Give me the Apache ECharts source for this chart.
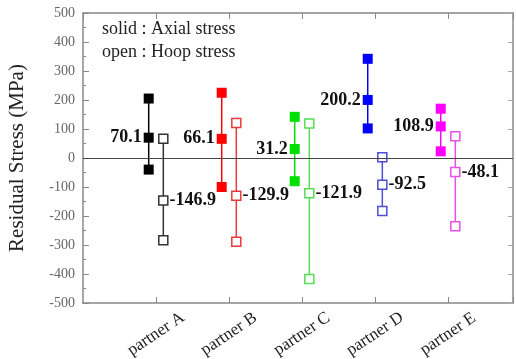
<!DOCTYPE html>
<html>
<head>
<meta charset="utf-8">
<script src="https://cdn.jsdelivr.net/npm/echarts@6/dist/echarts.min.js"></script>
<style>
html,body{margin:0;padding:0;background:#fff;}
#chart{width:516px;height:359px;}
</style>
</head>
<body>
<div id="chart"></div>
<script>
var categories = ['partner A', 'partner B', 'partner C', 'partner D', 'partner E'];
var axialTop = [205, 225, 142, 342, 170];
var axialMean = [70.1, 66.1, 31.2, 200.2, 108.9];
var axialBottom = [-40, -100, -80, 102, 23];
var hoopTop = [66, 121, 119, 3, 75];
var hoopMean = [-146.9, -129.9, -121.9, -92.5, -48.1];
var hoopBottom = [-284, -289, -417, -183, -235];
var yTicks = [-500, -400, -300, -200, -100, 0, 100, 200, 300, 400, 500];

var solidColors = ['#000000', '#ff0000', '#00e000', '#0000ff', '#ff00ff'];
var openColors = ['#333333', '#e83a3a', '#55dd55', '#4d4dd8', '#e64fe6'];
var serif = '"Liberation Serif", "Times New Roman", serif';
var OFF = 0.1;

var series = [];
categories.forEach(function (c, i) {
  var xa = i + 1 - OFF, xh = i + 1 + OFF;
  var lblA = {show: true, position: 'left', distance: 2, fontFamily: serif, fontWeight: 'bold', fontSize: 18, color: '#111', formatter: function (p) { return String(axialMean[i]); }};
  var lblH = {show: true, position: 'right', distance: 1, fontFamily: serif, fontWeight: 'bold', fontSize: 18, color: '#111', formatter: function (p) { return String(hoopMean[i]); }};
  series.push({
    type: 'line', name: c + ' axial', symbol: 'rect', symbolSize: 10,
    lineStyle: {color: solidColors[i], width: 1.5},
    itemStyle: {color: solidColors[i], borderColor: solidColors[i], borderWidth: 0},
    z: 3,
    data: [[xa, axialTop[i]], {value: [xa, axialMean[i]], label: lblA}, [xa, axialBottom[i]]]
  });
  series.push({
    type: 'line', name: c + ' hoop', symbol: 'rect', symbolSize: 9,
    lineStyle: {color: openColors[i], width: 1.5},
    itemStyle: {color: '#ffffff', borderColor: openColors[i], borderWidth: 1.5},
    z: 3,
    data: [[xh, hoopTop[i]], {value: [xh, hoopMean[i]], label: lblH}, [xh, hoopBottom[i]]]
  });
});
series[0].markLine = {
  silent: true, symbol: 'none', label: {show: false},
  lineStyle: {color: '#444', width: 1, type: 'solid'},
  data: [{yAxis: 0}]
};

var axisLineStyle = {color: '#888', width: 1.5};
var chart = echarts.init(document.getElementById('chart'), null, {renderer: 'canvas'});
chart.setOption({
  animation: false,
  backgroundColor: '#fff',
  grid: {left: 83, top: 13, right: 3, bottom: 56, containLabel: false, outerBoundsMode: 'none'},
  xAxis: [{
    type: 'value', min: 0, max: 5.89, interval: 1, position: 'bottom',
    axisLine: {show: true, onZero: false, lineStyle: axisLineStyle},
    axisTick: {show: true, inside: true, length: 6, lineStyle: {color: '#888'}},
    splitLine: {show: false},
    axisLabel: {
      show: true, rotate: 34, align: 'center', verticalAlign: 'middle', margin: 31,
      fontFamily: serif, fontSize: 17, color: '#222', showMinLabel: false,
      formatter: function (v) { var k = Math.round(v); return (k >= 1 && k <= categories.length) ? categories[k - 1] : ''; }
    }
  }, {
    type: 'value', min: 0, max: 5.89, interval: 1, position: 'top',
    axisLine: {show: true, onZero: false, lineStyle: axisLineStyle},
    axisTick: {show: true, inside: true, length: 6, lineStyle: {color: '#888'}},
    splitLine: {show: false}, axisLabel: {show: false}
  }],
  yAxis: [{
    type: 'value', min: -500, max: 500, interval: 100, position: 'left',
    name: 'Residual Stress (MPa)', nameLocation: 'middle', nameGap: 55, nameRotate: 90,
    nameTextStyle: {fontFamily: serif, fontSize: 21, color: '#222'},
    axisLine: {show: true, onZero: false, lineStyle: axisLineStyle},
    axisTick: {show: true, inside: true, length: 6, lineStyle: {color: '#888'}},
    minorTick: {show: true, splitNumber: 2, length: 3, lineStyle: {color: '#888'}},
    splitLine: {show: false},
    axisLabel: {margin: 8, fontFamily: serif, fontSize: 14, color: '#666',
      formatter: function (v) { return yTicks.indexOf(v) >= 0 ? String(v) : ''; }}
  }, {
    type: 'value', min: -500, max: 500, interval: 100, position: 'right',
    axisLine: {show: true, onZero: false, lineStyle: axisLineStyle},
    axisTick: {show: true, inside: true, length: 5, lineStyle: {color: '#aaa'}},
    splitLine: {show: false}, axisLabel: {show: false}
  }],
  graphic: [
    {type: 'text', left: 102, top: 20, style: {text: 'solid : Axial stress', fontFamily: serif, fontSize: 18, fill: '#222'}},
    {type: 'text', left: 102, top: 43, style: {text: 'open : Hoop stress', fontFamily: serif, fontSize: 18, fill: '#222'}}
  ],
  series: series
});
</script>
</body>
</html>
